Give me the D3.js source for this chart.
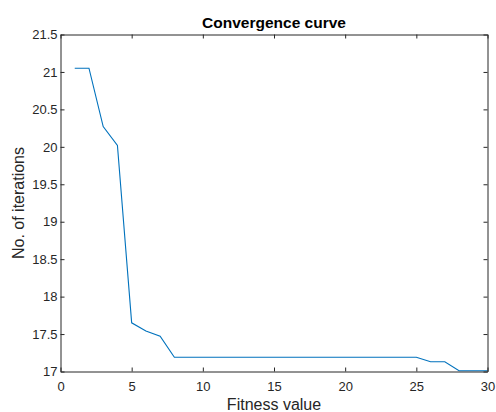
<!DOCTYPE html>
<html>
<head>
<script src="https://cdnjs.cloudflare.com/ajax/libs/d3/7.8.5/d3.min.js"></script>
<style>
  body { margin: 0; background: #fff; }
  svg { display: block; font-family: "Liberation Sans", Arial, sans-serif; }
</style>
</head>
<body>
<script>
// data
const iterations = d3.range(1, 31);
const fitness = [21.05, 21.05, 20.27, 20.02, 17.65, 17.54, 17.47, 17.19, 17.19, 17.19,
                 17.19, 17.19, 17.19, 17.19, 17.19, 17.19, 17.19, 17.19, 17.19, 17.19,
                 17.19, 17.19, 17.19, 17.19, 17.19, 17.13, 17.13, 17.01, 17.01, 17.01];
const xTicks = [0, 5, 10, 15, 20, 25, 30];
const yTicks = [17, 17.5, 18, 18.5, 19, 19.5, 20, 20.5, 21, 21.5];

const width = 496, height = 412;
const m = { left: 60.5, right: 8.5, top: 34.5, bottom: 40.5 };
const axisColor = "#262626";

const svg = d3.select("body").append("svg")
    .attr("width", width)
    .attr("height", height);

const x = d3.scaleLinear().domain([0, 30]).range([m.left, width - m.right]);
const y = d3.scaleLinear().domain([17, 21.5]).range([height - m.bottom, m.top]);

// line
svg.append("path")
    .datum(iterations.map((d, i) => [d, fitness[i]]))
    .attr("fill", "none")
    .attr("stroke", "#0072BD")
    .attr("stroke-width", 1.1)
    .attr("d", d3.line().x(d => x(d[0])).y(d => y(d[1])));

function styleAxis(g) {
    g.select(".domain").attr("stroke", axisColor);
    g.selectAll(".tick line").attr("stroke", axisColor);
    g.selectAll(".tick text").attr("fill", axisColor).attr("font-size", 13);
}

// bottom / left with labels, top / right with ticks only
svg.append("g")
    .attr("transform", `translate(0,${height - m.bottom})`)
    .call(d3.axisBottom(x).tickValues(xTicks).tickSizeInner(-4).tickSizeOuter(0).tickPadding(10))
    .call(styleAxis);

svg.append("g")
    .attr("transform", `translate(${m.left},0)`)
    .call(d3.axisLeft(y).tickValues(yTicks).tickSizeInner(-4).tickSizeOuter(0).tickPadding(3).tickFormat(d3.format("")))
    .call(styleAxis);

svg.append("g")
    .attr("transform", `translate(0,${m.top})`)
    .call(d3.axisTop(x).tickValues(xTicks).tickSizeInner(-4).tickSizeOuter(0).tickFormat(""))
    .call(styleAxis);

svg.append("g")
    .attr("transform", `translate(${width - m.right},0)`)
    .call(d3.axisRight(y).tickValues(yTicks).tickSizeInner(-4).tickSizeOuter(0).tickFormat(""))
    .call(styleAxis);

// title and labels
svg.append("text")
    .attr("x", (m.left + width - m.right) / 2)
    .attr("y", 28)
    .attr("text-anchor", "middle")
    .attr("font-size", 15.5)
    .attr("font-weight", "bold")
    .attr("fill", "#000")
    .text("Convergence curve");

svg.append("text")
    .attr("x", (m.left + width - m.right) / 2)
    .attr("y", 410)
    .attr("text-anchor", "middle")
    .attr("font-size", 16)
    .attr("fill", axisColor)
    .text("Fitness value");

svg.append("text")
    .attr("transform", `translate(24,${(m.top + height - m.bottom) / 2}) rotate(-90)`)
    .attr("text-anchor", "middle")
    .attr("font-size", 16)
    .attr("fill", axisColor)
    .text("No. of iterations");
</script>
</body>
</html>
